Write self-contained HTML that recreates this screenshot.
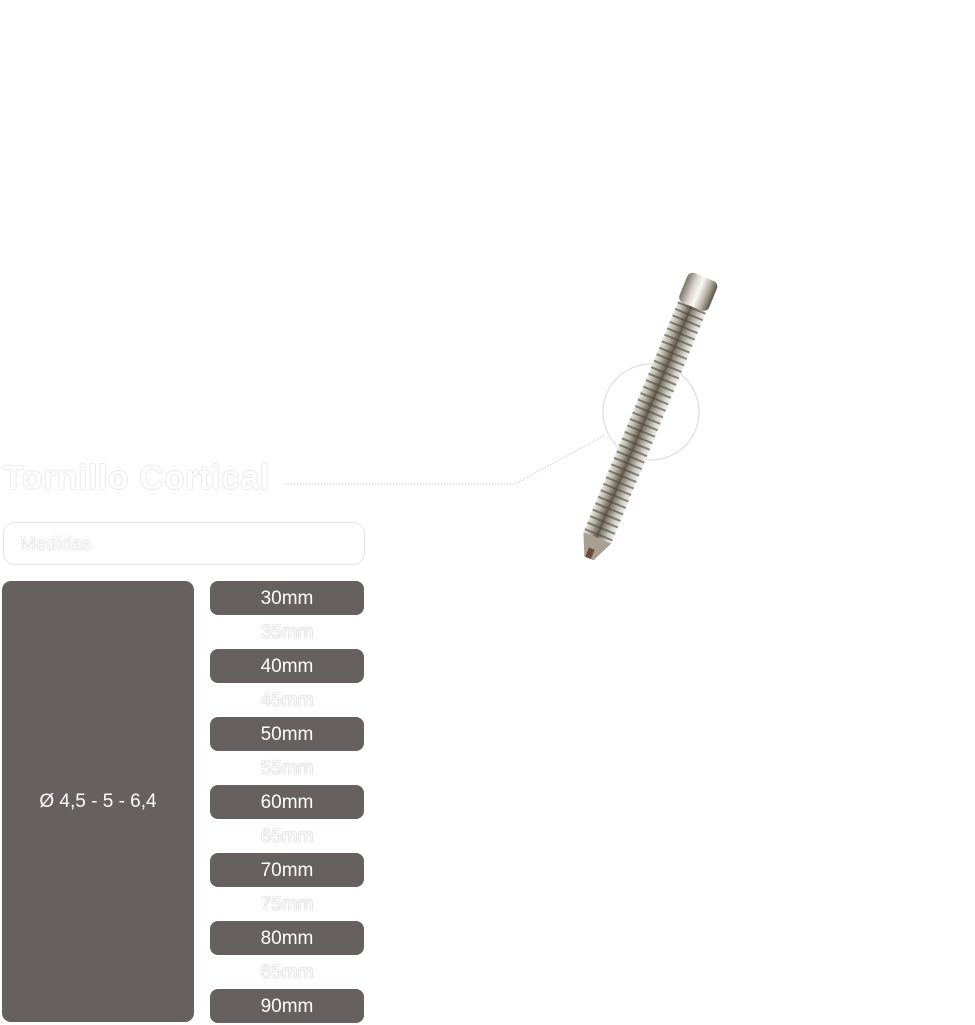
<!DOCTYPE html>
<html><head><meta charset="utf-8"><style>
body{margin:0;width:975px;height:1024px;background:#fff;position:relative;overflow:hidden;font-family:"Liberation Sans",sans-serif}
.ghost{position:absolute;color:#fff;text-shadow:0 0 1px #bbb,0 0 1px #bbb}
.pill{position:absolute;left:210px;width:154px;height:34px;background:#666160;border-radius:8px;color:#fff;font-size:19px;text-align:center;line-height:36px}
.mid{position:absolute;left:210px;width:154px;text-align:center;font-size:19px;color:#fff;text-shadow:0 0 1px #aaa,0 0 1px #aaa}
</style></head><body>
<div class="ghost" style="left:3px;top:459px;font-size:34px;font-weight:bold;letter-spacing:0.5px">Tornillo Cortical</div>
<div style="position:absolute;left:3px;top:522px;width:360px;height:41px;border:1px solid #e4e4e4;border-radius:12px"></div>
<div class="ghost" style="left:20px;top:534px;font-size:19px">Medidas</div>
<div style="position:absolute;left:2px;top:581px;width:192px;height:441px;background:#666160;border-radius:9px;color:#fff;font-size:19px;display:flex;align-items:center;justify-content:center;padding-top:0">Ø 4,5 - 5 - 6,4</div>
<div class="pill" style="top:581px">30mm</div>
<div class="mid" style="top:622px">35mm</div>
<div class="pill" style="top:649px">40mm</div>
<div class="mid" style="top:690px">45mm</div>
<div class="pill" style="top:717px">50mm</div>
<div class="mid" style="top:758px">55mm</div>
<div class="pill" style="top:785px">60mm</div>
<div class="mid" style="top:826px">65mm</div>
<div class="pill" style="top:853px">70mm</div>
<div class="mid" style="top:894px">75mm</div>
<div class="pill" style="top:921px">80mm</div>
<div class="mid" style="top:962px">85mm</div>
<div class="pill" style="top:989px">90mm</div>
<svg style="position:absolute;left:0;top:0" width="975" height="1024">
<defs>
<linearGradient id="g" x1="0" x2="1" y1="0" y2="0">
<stop offset="0" stop-color="#7a7366"/><stop offset="0.3" stop-color="#d8d4cc"/><stop offset="0.5" stop-color="#faf9f6"/><stop offset="0.75" stop-color="#b8b2a6"/><stop offset="1" stop-color="#5a5346"/>
</linearGradient>
<pattern id="th" width="34" height="7" patternUnits="userSpaceOnUse">
<rect width="34" height="7" fill="url(#g)"/><rect y="4.5" width="34" height="2" fill="#4a443a" opacity="0.6"/>
</pattern>
</defs>
<polyline points="285,484 515,484 605,435" fill="none" stroke="#ccc" stroke-width="1" stroke-dasharray="1.5,1.5"/>
<circle cx="651" cy="412" r="48" fill="none" stroke="#ddd" stroke-width="1.2"/>
<g transform="translate(699,290) rotate(22.3)">
<rect x="-16" y="-14" width="32" height="32" rx="6" fill="url(#g)"/>
<rect x="-15" y="18" width="30" height="250" fill="url(#th)"/>
<path d="M-15 268 L15 268 L5 290 L-5 290 Z" fill="#a89f90"/>
<rect x="-4" y="280" width="6" height="10" fill="#6b4a3a"/>
</g>
</svg>
</body></html>
